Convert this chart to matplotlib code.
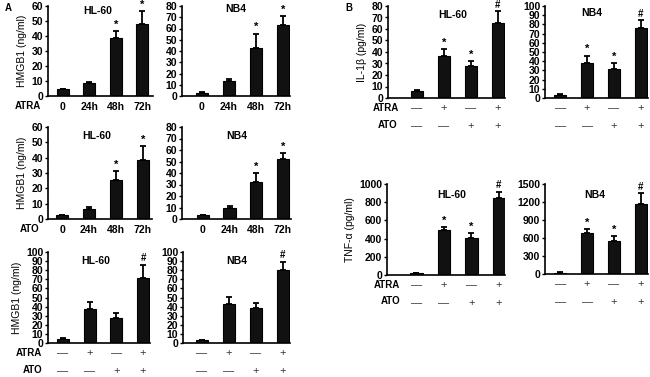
import numpy as np
import matplotlib.pyplot as plt

plt.rcParams['font.family'] = ['Liberation Sans', 'DejaVu Sans']
plt.rcParams['font.weight'] = 'bold'
plt.rcParams['font.size'] = 7.5

W, H = 650, 377

# ---- Datos ----
tiempos = ['0', '24h', '48h', '72h']

atra_hl60 = [4.5, 9, 39, 48]
atra_hl60_err = [0.5, 0.3, 4.5, 8.7]
atra_nb4 = [3, 13, 43, 63]
atra_nb4_err = [0.3, 1.8, 12.5, 8]

ato_hl60 = [2.5, 6.6, 25.2, 38.7]
ato_hl60_err = [0.4, 1.5, 6, 8.8]
ato_nb4 = [3.5, 9.3, 32.4, 52.3]
ato_nb4_err = [0.3, 2.1, 7.6, 5]

comb_atra = ['—', '+', '—', '+']
comb_ato = ['—', '—', '+', '+']

comb_hl60 = [4.7, 37.6, 27.4, 71.9]
comb_hl60_err = [0.4, 8, 5.4, 14]
comb_nb4 = [3, 43, 38.7, 80.7]
comb_nb4_err = [0.5, 8, 5.8, 8.7]

il1b_hl60 = [6.1, 36.6, 27.9, 65.1]
il1b_hl60_err = [0.5, 5.8, 4.1, 10.5]
il1b_nb4 = [3.6, 37.7, 31.5, 76]
il1b_nb4_err = [0.5, 8.3, 6.2, 8.8]

tnf_hl60 = [18, 490, 403, 850]
tnf_hl60_err = [3, 40, 55, 66]
tnf_nb4 = [22, 678, 550, 1167]
tnf_nb4_err = [4, 66, 83, 177]

marcas_tiempo = ['', '', '*', '*']
marcas_comb = ['', '', '', '#']
marcas_il = ['', '*', '*', '#']


def crear_eje(x0, x1, ytop, ybot):
    """Crear eje a partir de coordenadas en pixeles"""
    return plt.gcf().add_axes([x0 / W, 1 - ybot / H, (x1 - x0) / W, (ybot - ytop) / H])


def barras(ax, valores, errores, ymax, paso, xlim, marcas, titulo, tx, ty):
    x = np.arange(len(valores))
    ax.bar(x, valores, width=0.46, color='#111111', edgecolor='black', linewidth=0.8, zorder=2)
    ax.errorbar(x, valores, yerr=[np.zeros(len(errores)), errores], fmt='none',
                ecolor='black', elinewidth=1.3, capsize=2.5, capthick=1.3, zorder=1)
    for xi, v, e, m in zip(x, valores, errores, marcas):
        if m:
            ax.text(xi, v + e + ymax * 0.015, m, ha='center', va='bottom',
                    fontsize=7 if m == '#' else 8)
    ax.set_ylim(0, ymax)
    ax.set_xlim(*xlim)
    ax.set_yticks(np.arange(0, ymax + paso / 2, paso))
    ax.spines['top'].set_visible(False)
    ax.spines['right'].set_visible(False)
    ax.spines['left'].set_linewidth(1.2)
    ax.spines['bottom'].set_linewidth(1.2)
    ax.tick_params(axis='y', length=2.5, width=1, pad=1, labelsize=7.5)
    ax.tick_params(axis='x', length=0, labelsize=7.5, pad=4)
    ax.set_xticks(x)
    ax.set_xticklabels([])
    ax.text(tx, ty, titulo, transform=ax.transAxes, ha='center', va='center', fontsize=7.5)
    ax.patch.set_alpha(0)


def fila_signos(ax, signos, dy):
    for i, s in enumerate(signos):
        ax.annotate(s, xy=(i, 0), xycoords=('data', 'axes fraction'),
                    xytext=(0, -dy), textcoords='offset points', ha='center', va='center',
                    fontsize=8, fontweight='normal', color='#333333')


fig = plt.figure(figsize=(W / 100, H / 100), dpi=100)

# ---------------- Panel A ----------------
# Fila 1: ATRA
ax = crear_eje(48, 153, 6, 96)
barras(ax, atra_hl60, atra_hl60_err, 60, 10, (-0.56, 3.4), marcas_tiempo, 'HL-60', 0.47, 0.95)
ax.set_xticklabels(tiempos)
ax.set_ylabel('HMGB1 (ng/ml)', fontsize=7.5, fontweight='normal', labelpad=3)
ax = crear_eje(182, 290, 6, 96)
barras(ax, atra_nb4, atra_nb4_err, 80, 10, (-0.74, 3.26), marcas_tiempo, 'NB4', 0.5, 0.97)
ax.set_xticklabels(tiempos)
fig.text(15 / W, 1 - 106 / H, 'ATRA', ha='left', va='center', fontsize=7)

# Fila 2: ATO
ax = crear_eje(48, 152, 127, 219)
barras(ax, ato_hl60, ato_hl60_err, 60, 10, (-0.52, 3.34), marcas_tiempo, 'HL-60', 0.47, 0.9)
ax.set_xticklabels(tiempos)
ax.set_ylabel('HMGB1 (ng/ml)', fontsize=7.5, fontweight='normal', labelpad=3)
ax = crear_eje(182, 291, 127, 219)
barras(ax, ato_nb4, ato_nb4_err, 80, 10, (-0.78, 3.3), marcas_tiempo, 'NB4', 0.5, 0.9)
ax.set_xticklabels(tiempos)
fig.text(20 / W, 1 - 229 / H, 'ATO', ha='left', va='center', fontsize=7)

# Fila 3: combinacion
ax = crear_eje(48, 150, 252, 343)
barras(ax, comb_hl60, comb_hl60_err, 100, 10, (-0.56, 3.26), marcas_comb, 'HL-60', 0.47, 0.9)
ax.set_ylabel('HMGB1 (ng/ml)', fontsize=7.5, fontweight='normal', labelpad=3)
fila_signos(ax, comb_atra, 7.5)
fila_signos(ax, comb_ato, 20)
ax = crear_eje(183, 290, 252, 343)
barras(ax, comb_nb4, comb_nb4_err, 100, 10, (-0.7, 3.26), marcas_comb, 'NB4', 0.5, 0.9)
fila_signos(ax, comb_atra, 7.5)
fila_signos(ax, comb_ato, 20)
fig.text(16 / W, 1 - 353 / H, 'ATRA', ha='left', va='center', fontsize=7)
fig.text(23 / W, 1 - 370 / H, 'ATO', ha='left', va='center', fontsize=7)

# ---------------- Panel B ----------------
ax = crear_eje(388, 505, 6, 98)
barras(ax, il1b_hl60, il1b_hl60_err, 80, 10, (-1.07, 3.26), marcas_il, 'HL-60', 0.55, 0.9)
ax.set_ylabel('IL-1β (pg/ml)', fontsize=7.5, fontweight='normal', labelpad=3)
fila_signos(ax, comb_atra, 7.5)
fila_signos(ax, comb_ato, 20)
ax = crear_eje(545, 648, 6, 98)
barras(ax, il1b_nb4, il1b_nb4_err, 100, 10, (-0.56, 3.26), marcas_il, 'NB4', 0.45, 0.92)
fila_signos(ax, comb_atra, 7.5)
fila_signos(ax, comb_ato, 20)
fig.text(373 / W, 1 - 108 / H, 'ATRA', ha='left', va='center', fontsize=7)
fig.text(378 / W, 1 - 125 / H, 'ATO', ha='left', va='center', fontsize=7)

ax = crear_eje(387, 505, 184, 275)
barras(ax, tnf_hl60, tnf_hl60_err, 1000, 200, (-1.07, 3.22), marcas_il, 'HL-60', 0.55, 0.88)
ax.set_ylabel('TNF-α (pg/ml)', fontsize=7.5, fontweight='normal', labelpad=3)
fila_signos(ax, comb_atra, 7.5)
fila_signos(ax, comb_ato, 20)
ax = crear_eje(545, 648, 184, 274)
barras(ax, tnf_nb4, tnf_nb4_err, 1500, 300, (-0.56, 3.26), marcas_il, 'NB4', 0.48, 0.88)
fila_signos(ax, comb_atra, 7.5)
fila_signos(ax, comb_ato, 20)
fig.text(374 / W, 1 - 285 / H, 'ATRA', ha='left', va='center', fontsize=7)
fig.text(381 / W, 1 - 301 / H, 'ATO', ha='left', va='center', fontsize=7)

fig.text(5 / W, 1 - 8 / H, 'A', ha='left', va='center', fontsize=7)
fig.text(345 / W, 1 - 8 / H, 'B', ha='left', va='center', fontsize=7)

fig.savefig('out.png', dpi=100)
